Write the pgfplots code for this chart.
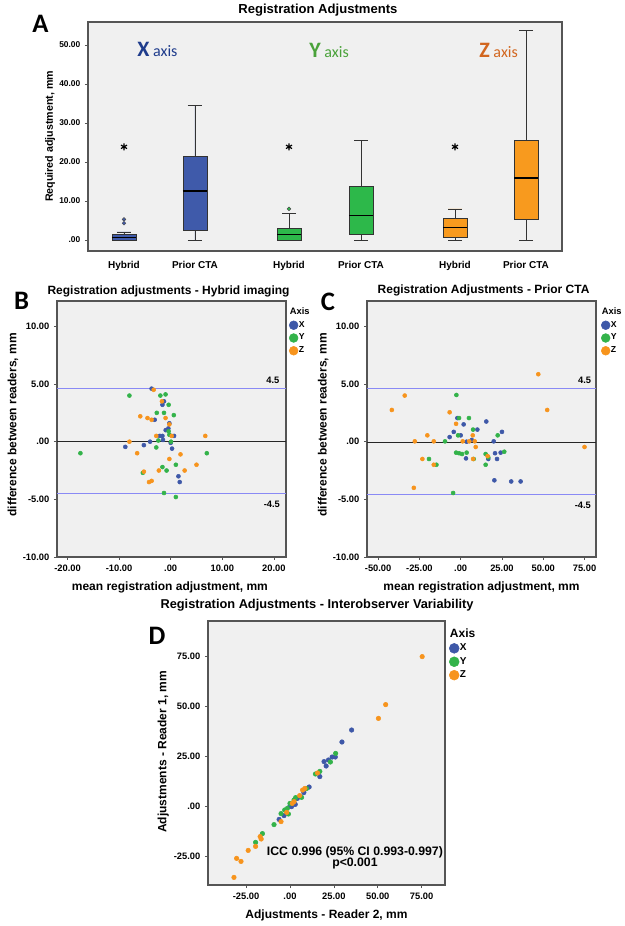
\documentclass[border=0pt]{standalone}
\usepackage{fontspec}
\setmainfont{Liberation Sans}
\setsansfont{Liberation Sans}
\newfontfamily\calibri{Carlito}
\usepackage{pgfplots}
\pgfplotsset{compat=1.18}
\usepgfplotslibrary{statistics}
\usetikzlibrary{plotmarks}

\definecolor{bgc}{HTML}{F0F0F0}
\definecolor{framec}{HTML}{555555}
\definecolor{cx}{HTML}{3E58A8}
\definecolor{cy}{HTML}{33B34A}
\definecolor{cz}{HTML}{F7941D}
\definecolor{boxx}{HTML}{3F5AAA}
\definecolor{boxy}{HTML}{2DB84A}
\definecolor{boxz}{HTML}{F89A1E}
\definecolor{tx}{HTML}{1F3C8C}
\definecolor{ty}{HTML}{4AA23A}
\definecolor{tz}{HTML}{D2661F}
\definecolor{loa}{HTML}{8A8AF5}

\newlength\px \setlength\px{0.75pt}

\pgfplotsset{
  spss/.style={scale only axis, anchor=south west,
    axis background/.style={fill=bgc},
    axis line style={draw=framec, line width=0.8pt},
    tick pos=left, tick align=outside, major tick length=3\px,
    every tick/.style={draw=framec, line width=0.5pt},
    ticklabel style={font=\fontsize{7}{8}\selectfont\bfseries, text=black},
    label style={font=\fontsize{9}{10}\selectfont\bfseries},
    every axis title shift=0pt,
    title style={font=\fontsize{9}{10}\selectfont\bfseries, anchor=center},
  },
  spsslegend/.style={
    legend style={draw=none, fill=none, inner sep=0pt, row sep=2.4pt,
      font=\fontsize{6.5}{7}\selectfont\bfseries, nodes={inner sep=0.6pt}},
    legend cell align=left,
  },
}

\begin{document}
\begin{tikzpicture}
\path[use as bounding box] (0,0) rectangle (625\px,926\px);

% ---------------- A: box plots ----------------
\begin{axis}[spss, at={(88\px,675\px)}, width=474\px, height=229\px,
  xmin=88, xmax=562, ymin=-2.8, ymax=55.9,
  boxplot/draw direction=y,
  xtick={124,195,289,361,455,526},
  xticklabels={Hybrid,Prior CTA,Hybrid,Prior CTA,Hybrid,Prior CTA},
  xtick style={draw=none},
  xticklabel style={font=\fontsize{7.5}{8}\selectfont\bfseries, yshift=-3\px},
  ytick={0,10,20,30,40,50},
  yticklabels={.00,10.00,20.00,30.00,40.00,50.00},
  yticklabel style={font=\fontsize{6.3}{7}\selectfont\bfseries},
  ylabel={Required adjustment, mm},
  ylabel style={at={(axis description cs:-0.080,0.5)}, anchor=center, font=\fontsize{8}{9}\selectfont\bfseries},
  title={Registration Adjustments},
  title style={at={(axis description cs:0.485,1.052)}, font=\fontsize{9.8}{11}\selectfont\bfseries},
  boxplot/every median/.style={draw=black, line width=1.2pt},
]
\addplot[boxplot prepared={draw position=124, lower whisker=0, lower quartile=0,
  median=0.7, upper quartile=1.5, upper whisker=2.1, box extend=24, whisker extend=14},
  fill=boxx, draw=black!80] coordinates {};
\addplot[boxplot prepared={draw position=195, lower whisker=0, lower quartile=2.6,
  median=12.6, upper quartile=21.6, upper whisker=34.6, box extend=24, whisker extend=14},
  fill=boxx, draw=black!80] coordinates {};
\addplot[boxplot prepared={draw position=289, lower whisker=0, lower quartile=0,
  median=1.45, upper quartile=2.9, upper whisker=6.8, box extend=24, whisker extend=14},
  fill=boxy, draw=black!80] coordinates {};
\addplot[boxplot prepared={draw position=361, lower whisker=0, lower quartile=1.5,
  median=6.3, upper quartile=13.9, upper whisker=25.6, box extend=24, whisker extend=14},
  fill=boxy, draw=black!80] coordinates {};
\addplot[boxplot prepared={draw position=455, lower whisker=0, lower quartile=0.8,
  median=3.2, upper quartile=5.7, upper whisker=8.0, box extend=24, whisker extend=14},
  fill=boxz, draw=black!80] coordinates {};
\addplot[boxplot prepared={draw position=526, lower whisker=0, lower quartile=5.3,
  median=15.9, upper quartile=25.7, upper whisker=53.8, box extend=24, whisker extend=14},
  fill=boxz, draw=black!80] coordinates {};
% outliers
\addplot[only marks, mark=*, mark size=1.4pt, mark options={fill=boxx, draw=black!70, line width=0.3pt}]
  coordinates {(124,4.3) (124,5.3)};
\addplot[only marks, mark=*, mark size=1.4pt, mark options={fill=boxy, draw=black!70, line width=0.3pt}]
  coordinates {(289,8.0)};
% extremes
\addplot[only marks, mark=asterisk, mark size=2.6pt, mark options={draw=black, line width=0.9pt}]
  coordinates {(124,23.9) (289,23.9) (455,23.9)};
\node[anchor=base west, text=tx, inner sep=0pt] at (axis cs:137,47.0)
  {{\fontsize{16.5}{16}\selectfont\calibri\bfseries X} {\fontsize{12}{12}\selectfont\calibri axis}};
\node[anchor=base west, text=ty, inner sep=0pt] at (axis cs:309,46.8)
  {{\fontsize{16.5}{16}\selectfont\calibri\bfseries Y} {\fontsize{12}{12}\selectfont\calibri axis}};
\node[anchor=base west, text=tz, inner sep=0pt] at (axis cs:479,46.8)
  {{\fontsize{16.5}{16}\selectfont\calibri\bfseries Z} {\fontsize{12}{12}\selectfont\calibri axis}};
\end{axis}

% ---------------- B: Bland-Altman hybrid ----------------
\begin{axis}[spss, spsslegend, at={(57\px,369\px)}, width=229\px, height=256\px,
  xmin=-22.04, xmax=22.35, ymin=-10, ymax=12.2,
  xtick={-20,-10,0,10,20}, xticklabels={-20.00,-10.00,.00,10.00,20.00},
  ytick={-10,-5,0,5,10}, yticklabels={-10.00,-5.00,.00,5.00,10.00},
  xlabel={mean registration adjustment, mm},
  ylabel={difference between readers, mm},
  xlabel style={at={(axis description cs:0.493,-0.117)}, anchor=center},
  ylabel style={at={(axis description cs:-0.192,0.516)}, anchor=center},
  title={Registration adjustments - Hybrid imaging},
  title style={at={(axis description cs:0.487,1.039)}},
  legend style={at={(1.013,0.978)}, anchor=north west},
  legend image code/.code={\draw[#1,mark size=3.3pt] plot coordinates {(0cm,0cm)};},
  legend entries={\hspace*{-9\px}{\fontsize{7}{8}\selectfont Axis},X,Y,Z},
]
\addlegendimage{empty legend}
\addplot[loa, line width=0.8pt, forget plot] coordinates {(-22.04,4.58) (22.35,4.58)};
\addplot[loa, line width=0.8pt, forget plot] coordinates {(-22.04,-4.48) (22.35,-4.48)};
\addplot[black!85, line width=1pt, forget plot] coordinates {(-22.04,0.03) (22.35,0.03)};
\addplot[only marks, mark=*, mark size=1.5pt, color=cx] coordinates {
  (-3.7,4.6) (-1.3,3.5) (-1.6,3.2) (-3.1,1.9) (-0.26,1.6) (-0.45,1.15) (-0.97,1.0)
  (-2.1,0.5) (-1.6,0.5) (0.65,0.5) (-4.0,0) (-1.5,0.15) (0,-0.1) (-5.2,-0.3)
  (-8.8,-0.45) (0.26,-0.6) (1.5,-3.0) (1.75,-3.5)};
\addplot[only marks, mark=*, mark size=1.5pt, color=cy] coordinates {
  (-8.0,4.0) (-2.0,4.0) (-1.0,4.1) (-0.4,3.2) (-2.7,2.5) (-1.3,2.5) (0.6,2.3)
  (-0.4,0.9) (-0.26,0.6) (-2.4,0.1) (0.06,0) (-2.8,-0.5) (-17.5,-1.0) (7.0,-1.0)
  (-1.6,-2.2) (1.0,-2.0) (-0.8,-2.5) (-5.4,-2.7) (-1.3,-4.45) (1.0,-4.8)};
\addplot[only marks, mark=*, mark size=1.5pt, color=cz] coordinates {
  (-3.3,4.5) (-1.7,3.5) (-5.9,2.2) (-4.5,2.05) (-3.7,1.9) (-1.0,2.05) (-0.26,1.5)
  (-2.8,0.5) (0.2,0.5) (6.7,0.5) (-8.0,0) (-6.5,-1.0) (1.9,-1.1) (-0.26,-1.5)
  (5.0,-2.0) (-2.3,-2.5) (2.7,-2.5) (-5.2,-2.6) (-4.2,-3.5) (-3.7,-3.4)};
\node[font=\fontsize{7}{8}\selectfont\bfseries] at (axis cs:19.8,5.3) {4.5};
\node[font=\fontsize{7}{8}\selectfont\bfseries] at (axis cs:19.6,-5.4) {-4.5};
\end{axis}

% ---------------- C: Bland-Altman prior CTA ----------------
\begin{axis}[spss, spsslegend, at={(367\px,369\px)}, width=229\px, height=256\px,
  xmin=-56.75, xmax=81.95, ymin=-10, ymax=12.2,
  xtick={-50,-25,0,25,50,75}, xticklabels={-50.00,-25.00,.00,25.00,50.00,75.00},
  ytick={-10,-5,0,5,10}, yticklabels={-10.00,-5.00,.00,5.00,10.00},
  xlabel={mean registration adjustment, mm},
  ylabel={difference between readers, mm},
  xlabel style={at={(axis description cs:0.50,-0.117)}, anchor=center},
  ylabel style={at={(axis description cs:-0.191,0.516)}, anchor=center},
  title={Registration Adjustments - Prior CTA},
  title style={at={(axis description cs:0.509,1.043)}},
  legend style={at={(1.022,0.978)}, anchor=north west},
  legend image code/.code={\draw[#1,mark size=3.3pt] plot coordinates {(0cm,0cm)};},
  legend entries={\hspace*{-9\px}{\fontsize{7}{8}\selectfont Axis},X,Y,Z},
]
\addlegendimage{empty legend}
\addplot[loa, line width=0.8pt, forget plot] coordinates {(-56.75,4.6) (81.95,4.6)};
\addplot[loa, line width=0.8pt, forget plot] coordinates {(-56.75,-4.57) (81.95,-4.57)};
\addplot[black!85, line width=1pt, forget plot] coordinates {(-56.75,-0.06) (81.95,-0.06)};
\addplot[only marks, mark=*, mark size=1.5pt, color=cx] coordinates {
  (-2.0,2.05) (1.8,1.5) (15.5,1.75) (10.1,1.05) (-4.2,0.85) (25.0,0.85) (-6.7,0.4)
  (0,0.55) (6.7,0.15) (20,0.03) (3.6,0) (3.2,-1.45) (20.8,-1.0) (24.2,-0.95)
  (22.0,-1.5) (16.7,-1.5) (20.4,-3.35) (30.6,-3.45) (36.3,-3.45)};
\addplot[only marks, mark=*, mark size=1.5pt, color=cy] coordinates {
  (-2.6,4.05) (-1.0,2.05) (5.0,2.05) (7.5,1.05) (-1.6,0.55) (22.4,0.55) (-9.5,0.03)
  (-2.8,-0.95) (-1.0,-1.0) (0.8,-1.07) (3.6,-0.95) (15.1,-1.07) (26.4,-0.87)
  (-19.2,-1.5) (-14.7,-2.0) (15.1,-2.0) (16.7,-1.35) (7.9,-1.5) (-4.6,-4.45)};
\addplot[only marks, mark=*, mark size=1.5pt, color=cz] coordinates {
  (47.0,5.85) (-33.9,4.0) (-41.7,2.75) (52.4,2.75) (-6.7,2.55) (-2.8,1.55)
  (-20.2,0.55) (7.3,0.55) (-27.8,0.03) (-16.3,0.03) (1.2,0.03) (5.2,0.03) (8.5,0.03)
  (9.1,-0.46) (75.0,-0.46) (-23.2,-1.5) (7.5,-1.5) (16.3,-1.25) (-16.3,-2.0) (-28.4,-4.0)};
\node[font=\fontsize{7}{8}\selectfont\bfseries] at (axis cs:75.1,5.35) {4.5};
\node[font=\fontsize{7}{8}\selectfont\bfseries] at (axis cs:74,-5.5) {-4.5};
\end{axis}

% ---------------- D: reader 1 vs reader 2 ----------------
\begin{axis}[spss, spsslegend, at={(208\px,41\px)}, width=237\px, height=264\px,
  xmin=-46.7, xmax=88.3, ymin=-39.5, ymax=92.5,
  xtick={-25,0,25,50,75}, xticklabels={-25.00,.00,25.00,50.00,75.00},
  ytick={-25,0,25,50,75}, yticklabels={-25.00,.00,25.00,50.00,75.00},
  xlabel={Adjustments - Reader 2, mm},
  ylabel={Adjustments - Reader 1, mm},
  xlabel style={at={(axis description cs:0.50,-0.114)}, anchor=center},
  ylabel style={at={(axis description cs:-0.189,0.505)}, anchor=center},
  title={Registration Adjustments - Interobserver Variability},
  title style={at={(axis description cs:0.46,1.061)}, font=\fontsize{9.6}{11}\selectfont\bfseries},
  legend style={at={(1.017,0.975)}, anchor=north west, font=\fontsize{7.5}{8}\selectfont\bfseries, row sep=2.2pt},
  legend image code/.code={\draw[#1,mark size=3.7pt] plot coordinates {(0cm,0cm)};},
  legend entries={\hspace*{-10\px}{\fontsize{9}{10}\selectfont Axis},X,Y,Z},
]
\addlegendimage{empty legend}
\addplot[only marks, mark=*, mark size=1.7pt, color=cx] coordinates {
  (35.1,38.0) (29.6,32.0) (25.8,24.5) (24.0,24.5) (19.4,22.2) (21.9,23) (20.6,20)
  (17.0,14.7) (10.9,9.5) (7.9,6.7) (4.2,3.8) (3.0,0.8) (0.9,-0.3) (-3.4,-4.8)
  (-6.2,-6.7) (0,0)};
\addplot[only marks, mark=*, mark size=1.7pt, color=cy] coordinates {
  (26.0,26.3) (23.0,22) (14.5,16) (17.0,17.3) (9.4,8.7) (6.6,4.3) (3.2,4.2) (0,1.3)
  (-1.5,-1.2) (-0.9,-4) (-3.0,-2) (-5.1,-3.8) (-9.1,-9.3) (-15.7,-13.8) (-19.6,-18.2)
  (2.3,3.0)};
\addplot[only marks, mark=*, mark size=1.7pt, color=cz] coordinates {
  (75.3,74.7) (54.5,50.7) (50.4,43.8) (15.7,16.5) (8.5,8.8) (7.2,8) (5.5,5.2)
  (2.3,2.2) (1.3,1.3) (-1.9,-3.2) (-5.1,-7.8) (-17.0,-15.3) (-16.4,-16.5)
  (-19.6,-20.2) (-23.8,-22.2) (-30.4,-26.2) (-27.9,-27.7) (-31.9,-35.7)};
\node[font=\fontsize{9.2}{10}\selectfont\bfseries] at (axis cs:37,-23) {ICC 0.996 (95\% CI 0.993-0.997)};
\node[font=\fontsize{9.2}{10}\selectfont\bfseries] at (axis cs:37,-28.5) {p<0.001};
\end{axis}

% panel letters
\node[font=\fontsize{20}{22}\selectfont\calibri\bfseries] at (40.5\px,902\px) {A};
\node[font=\fontsize{20}{22}\selectfont\calibri\bfseries] at (21.5\px,625\px) {B};
\node[font=\fontsize{20}{22}\selectfont\calibri\bfseries] at (328\px,624\px) {C};
\node[font=\fontsize{20}{22}\selectfont\calibri\bfseries] at (157\px,290\px) {D};
\end{tikzpicture}
\end{document}
